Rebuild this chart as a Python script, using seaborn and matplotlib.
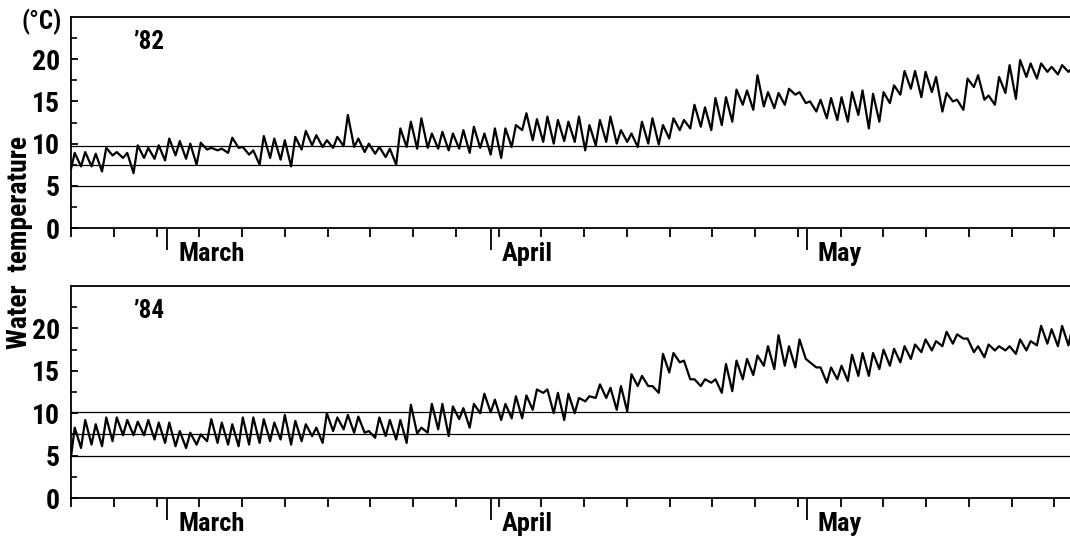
import numpy as np
import pandas as pd
import matplotlib
matplotlib.use("Agg")
import matplotlib.pyplot as plt
import seaborn as sns

# daily max / min water temperature (deg C), day 0 = start of record
max_82 = [8.9, 9.0, 8.8, 9.5, 9.0, 8.9, 9.8, 9.5, 9.8, 10.6,
          10.3, 10.0, 10.1, 9.5, 9.4, 10.7, 9.6, 9.2, 10.9, 10.6,
          10.4, 10.8, 11.5, 11.0, 10.4, 10.8, 13.4, 10.6, 10.0, 9.6,
          9.4, 11.8, 12.6, 13.0, 11.2, 11.4, 11.2, 11.6, 12.0, 11.2,
          11.8, 11.8, 12.2, 13.6, 12.9, 13.2, 12.8, 12.6, 13.2, 12.2,
          12.8, 13.2, 11.6, 11.2, 12.6, 13.0, 12.2, 13.0, 12.8, 14.6,
          14.3, 15.4, 15.5, 16.4, 16.3, 18.1, 16.1, 16.0, 16.5, 16.1,
          15.0, 15.2, 15.4, 15.5, 16.1, 16.3, 15.9, 16.1, 16.9, 18.6,
          18.6, 18.5, 17.9, 16.0, 15.2, 17.7, 18.1, 15.7, 17.9, 19.3,
          19.9, 19.5, 19.5, 19.1, 19.3, 19.0]
min_82 = [7.3, 7.3, 6.7, 8.6, 8.3, 6.5, 8.3, 8.2, 8.0, 8.6,
          8.2, 7.5, 9.3, 9.2, 8.9, 9.5, 8.7, 7.5, 8.3, 8.1,
          7.3, 9.3, 9.8, 9.6, 9.5, 9.7, 9.6, 9.0, 8.8, 8.4,
          7.5, 9.6, 9.4, 9.5, 9.4, 9.2, 9.4, 8.9, 9.5, 8.7,
          8.3, 9.6, 11.6, 10.4, 10.2, 10.0, 10.3, 10.2, 9.2, 9.8,
          10.2, 10.0, 10.2, 9.6, 10.0, 9.9, 10.6, 11.6, 11.8, 12.0,
          11.6, 12.2, 12.6, 14.6, 14.0, 14.4, 14.2, 14.6, 15.8, 14.8,
          13.8, 13.0, 12.8, 12.6, 13.4, 11.8, 12.6, 14.8, 15.8, 16.5,
          15.5, 16.1, 13.8, 15.0, 14.0, 16.7, 15.2, 14.6, 16.0, 15.3,
          17.9, 17.7, 18.5, 18.2, 18.5, 18.7]
max_84 = [8.3, 9.2, 8.7, 9.5, 9.5, 9.2, 9.0, 9.2, 8.9, 8.9,
          7.9, 7.7, 7.5, 9.3, 8.9, 8.7, 9.5, 9.5, 9.3, 8.9,
          9.8, 9.1, 8.7, 8.3, 10.0, 9.5, 9.8, 9.6, 7.9, 9.5,
          9.2, 9.2, 11.0, 8.3, 11.1, 11.1, 10.8, 10.6, 11.1, 12.3,
          11.6, 11.1, 12.0, 12.1, 12.8, 12.8, 12.4, 12.3, 11.8, 12.0,
          13.4, 13.0, 13.2, 14.6, 14.4, 13.2, 17.0, 17.1, 16.2, 14.0,
          14.0, 14.0, 15.8, 16.2, 16.4, 16.8, 17.9, 19.2, 17.9, 18.7,
          16.0, 15.4, 15.4, 15.6, 16.9, 17.1, 17.1, 17.5, 17.6, 17.9,
          18.1, 18.7, 18.5, 19.6, 19.3, 18.8, 17.9, 18.1, 17.9, 17.9,
          18.7, 18.5, 20.3, 19.9, 20.3, 20.3]
min_84 = [5.9, 6.3, 6.1, 6.7, 7.4, 7.4, 7.4, 6.9, 6.5, 6.1,
          5.9, 6.3, 6.7, 6.5, 6.3, 6.1, 6.3, 6.5, 6.7, 6.9,
          6.3, 6.7, 7.3, 6.5, 7.9, 8.1, 7.7, 7.7, 7.1, 7.3,
          6.9, 6.5, 7.6, 7.7, 8.1, 7.3, 9.3, 8.3, 10.0, 10.1,
          9.2, 9.4, 9.4, 10.4, 12.4, 10.0, 9.2, 10.0, 11.4, 11.8,
          11.8, 10.4, 10.2, 13.2, 13.2, 12.4, 14.8, 16.0, 14.0, 13.2,
          13.6, 12.4, 12.6, 14.0, 14.5, 15.6, 15.2, 15.6, 15.4, 16.4,
          15.4, 13.6, 14.0, 13.8, 14.4, 14.4, 15.2, 15.6, 16.0, 16.4,
          17.2, 17.4, 17.9, 18.2, 18.8, 17.2, 16.6, 17.4, 17.4, 17.0,
          17.4, 18.0, 18.2, 17.9, 18.0, 18.7]
start_82 = 7.0
start_84 = 4.9

# horizontal reference levels drawn across each panel
ref_82 = [5.0, 7.5, 9.7]
ref_84 = [5.0, 7.55, 10.1]

years = ["’82", "’84"]
month_names = ["March", "April", "May"]
month_days = [9.13, 39.96, 70.03]
tick_step = 4.07
n_ticks = 24
x_end = 95.1
y_major = [0, 5, 10, 15, 20]
y_minor = [2.5, 7.5, 12.5, 17.5, 22.5]


def make_trace(t_max, t_min, start):
    """build the zig-zag daily record: peak in the afternoon, low before dawn"""
    days = np.arange(len(t_max))
    t = np.concatenate([[0.0], np.column_stack([days + 0.35, days + 0.95]).ravel()])
    v = np.concatenate([[start], np.column_stack([t_max, t_min]).ravel()])
    return pd.DataFrame({"day": t, "temp": v})


sns.set_style("ticks")
plt.rcParams["font.family"] = ["Roboto Condensed", "Liberation Sans Narrow", "Roboto", "DejaVu Sans"]
plt.rcParams["font.weight"] = "bold"
for key in ["text.color", "axes.labelcolor", "xtick.color", "ytick.color", "axes.edgecolor"]:
    plt.rcParams[key] = "black"

fig = plt.figure(figsize=(10.7, 5.37), dpi=100)
ax1 = fig.add_axes([0.0664, 0.5754, 0.9336, 0.3929])
ax2 = fig.add_axes([0.0664, 0.0726, 0.9336, 0.3948])

panels = [(ax1, make_trace(max_82, min_82, start_82), ref_82),
          (ax2, make_trace(max_84, min_84, start_84), ref_84)]

for (ax, df, refs), year in zip(panels, years):
    for r in refs:
        ax.axhline(r, color="black", lw=0.9, zorder=1)
    sns.lineplot(data=df, x="day", y="temp", ax=ax, color="black", lw=1.6,
                 estimator=None, sort=False, zorder=2)
    ax.set_xlim(0, x_end)
    ax.set_ylim(0, 25)
    ax.set_xlabel("")
    ax.set_ylabel("")

    ax.spines["right"].set_visible(False)
    for s in ["left", "bottom", "top"]:
        ax.spines[s].set_linewidth(1.3)

    ax.set_xticks([k * tick_step for k in range(n_ticks)])
    ax.set_xticks(month_days, minor=True)
    ax.set_xticklabels([])
    ax.tick_params(axis="x", which="major", direction="out", length=6.5, width=1.3)
    ax.tick_params(axis="x", which="minor", direction="out", length=16, width=1.3)

    ax.set_yticks(y_major)
    ax.set_yticks(y_minor, minor=True)
    ax.set_yticklabels([str(v) for v in y_major], fontsize=20, fontweight="bold")
    ax.tick_params(axis="y", which="major", direction="in", length=5, width=1.3, pad=8)
    ax.tick_params(axis="y", which="minor", direction="in", length=4.5, width=1.2)

    for name, m in zip(month_names, month_days):
        ax.annotate(name, xy=(m, 0), xycoords=("data", "axes fraction"),
                    xytext=(8, -19), textcoords="offset points",
                    ha="left", va="center", fontsize=19, fontweight="bold")

    ax.text(0.062, 0.88, year, transform=ax.transAxes, fontsize=18,
            fontweight="bold", va="center", ha="left")

fig.text(42 / 1070, 1 - 22 / 537, "(°C)", fontsize=18, fontweight="bold",
         ha="center", va="center")
fig.text(0.018, 1 - 242 / 537, "Water  temperature", rotation=90, fontsize=20,
         fontweight="bold", ha="center", va="center")

plt.savefig("out.png", dpi=100)
plt.close()
